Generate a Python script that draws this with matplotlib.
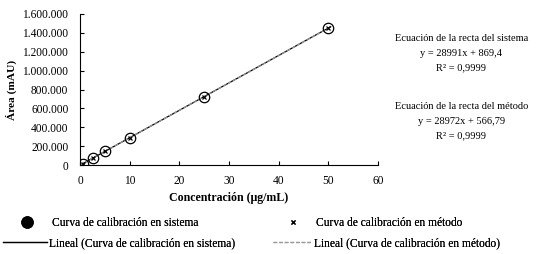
import numpy as np
import matplotlib
matplotlib.use('Agg')
import matplotlib.pyplot as plt
from matplotlib.lines import Line2D

# calibration data (concentration in ug/mL, area in mAU)
conc = [0.5, 2.5, 5, 10, 25, 50]
area_sistema = [15300, 73500, 145500, 290500, 725500, 1450000]
area_metodo = [15100, 73000, 145400, 290300, 725000, 1449000]

yticks = [0, 200000, 400000, 600000, 800000, 1000000, 1200000, 1400000, 1600000]
ytick_labels = ['0', '200.000', '400.000', '600.000', '800.000', '1.000.000',
                '1.200.000', '1.400.000', '1.600.000']
xticks = [0, 10, 20, 30, 40, 50, 60]

plt.rcParams['font.family'] = ['Liberation Serif', 'DejaVu Serif']
plt.rcParams['font.size'] = 8.3

fig = plt.figure(figsize=(5.42, 2.54), dpi=100)
ax = fig.add_axes([0.148, 0.35, 0.549, 0.595])

# trendlines (least squares)
xs = np.array([0, 50.5])
p1 = np.polyfit(conc, area_sistema, 1)
p2 = np.polyfit(conc, area_metodo, 1)
ax.plot(xs, np.polyval(p1, xs), color='black', lw=0.9)
ax.plot(xs, np.polyval(p2, xs), color='#9a9a9a', lw=0.9, ls=(0, (3, 1.5)))

ax.plot(conc, area_sistema, 'o', mfc='none', mec='black', ms=7.5, mew=0.9)
ax.plot(conc, area_metodo, 'x', color='black', ms=3, mew=0.9)

ax.set_xlim(0, 60)
ax.set_ylim(0, 1600000)
ax.set_xticks(xticks)
ax.set_yticks(yticks)
ax.set_yticklabels(ytick_labels)
ax.spines['top'].set_visible(False)
ax.spines['right'].set_visible(False)
ax.tick_params(direction='in', length=3, width=0.8)
ax.tick_params(axis='y', pad=8.5)
ax.tick_params(axis='x', pad=7)
ax.set_xlabel('Concentración (μg/mL)', fontweight='bold', fontsize=8.6, labelpad=4)
ax.set_ylabel('Área (mAU)', fontweight='bold', fontsize=8.2, labelpad=4)

fig.text(0.851, 0.789, 'Ecuación de la recta del sistema\ny = 28991x + 869,4\nR² = 0,9999',
         ha='center', va='center', fontsize=7.5, linespacing=1.8)
fig.text(0.851, 0.522, 'Ecuación de la recta del método\ny = 28972x + 566,79\nR² = 0,9999',
         ha='center', va='center', fontsize=7.5, linespacing=1.8)

# legend entries placed one by one, like the spreadsheet legend
entries = [
    (Line2D([], [], ls='none', marker='o', color='black', ms=8),
     'Curva de calibración en sistema', 0.0286, 0.122, 2.0, 1.17),
    (Line2D([], [], color='black', lw=0.9),
     'Lineal (Curva de calibración en sistema)', 0.0055, 0.043, 3.82, 0.17),
    (Line2D([], [], ls='none', marker='x', color='black', ms=3, mew=0.9),
     'Curva de calibración en método', 0.5194, 0.122, 2.0, 1.0),
    (Line2D([], [], color='#9a9a9a', lw=0.9, ls=(0, (3, 1.5))),
     'Lineal (Curva de calibración en método)', 0.5037, 0.043, 3.38, 0.17),
]
for handle, label, x0, y0, hl, tp in entries:
    leg = fig.legend([handle], [label], loc='center left', bbox_to_anchor=(x0, y0),
                     frameon=False, borderpad=0, borderaxespad=0,
                     handlelength=hl, handletextpad=tp)
    fig.add_artist(leg)

fig.savefig('out.png', dpi=100)
